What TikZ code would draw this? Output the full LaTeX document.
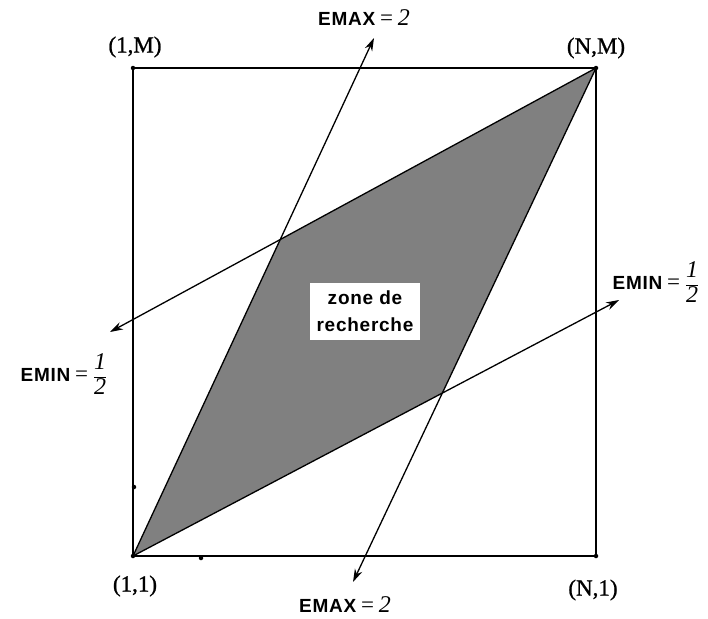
\documentclass[tikz,border=0pt]{standalone}
\usepackage{fontspec}
\setmainfont{Liberation Serif}
\setsansfont{Liberation Sans}
\newfontfamily\lblsans[LetterSpace=4]{Liberation Sans}
\newfontfamily\cornerfont[FakeBold=1]{Liberation Serif}
\usetikzlibrary{arrows.meta,calc}
\definecolor{zonegray}{RGB}{128,128,128}
\newcommand\fdig[1]{\textit{\fontsize{24}{26}\selectfont #1}}
\newcommand\eqsign{{\fontsize{23}{24}\selectfont =}}
\newcommand\twolbl{\textit{\fontsize{24}{26}\selectfont 2}}
\begin{document}
\begin{tikzpicture}[x=1pt,y=-1pt,
  edge/.style={line width=1.3pt},
  arr/.style={line width=1.3pt,-{Stealth[length=13pt,width=8pt]}},
  corner/.style={font=\cornerfont\fontsize{23}{26}\selectfont, inner sep=0pt},
  lbl/.style={font=\fontsize{19}{22}\selectfont, inner sep=0pt},
  dot/.style={circle,fill=black,inner sep=0pt,minimum size=4.5pt},
  zonebox/.style={fill=white, minimum width=110pt, minimum height=57pt, inner sep=0pt,
    align=center, font=\lblsans\bfseries\fontsize{19}{27}\selectfont}]
\useasboundingbox (0,0) rectangle (708,618);
\coordinate (A11) at (133,556);
\coordinate (A1M) at (133,68);
\coordinate (ANM) at (596,68);
\coordinate (AN1) at (596,556);
\coordinate (tTop) at (374,38);
\coordinate (tLeft) at (110,332);
\coordinate (tBot) at (353,582);
\coordinate (tRight) at (619,300);
\coordinate (P) at (intersection of A11--tTop and ANM--tLeft);
\coordinate (Q) at (intersection of A11--tRight and ANM--tBot);
\fill[zonegray] (A11) -- (P) -- (ANM) -- (Q) -- cycle;
\draw[edge] (A11) -- (A1M) -- (ANM) -- (AN1) -- cycle;
\draw[arr] (A11) -- (tTop);
\draw[arr] (ANM) -- (tLeft);
\draw[arr] (ANM) -- (tBot);
\draw[arr] (A11) -- (tRight);
\node[zonebox] (zone) at (365,311.5) {zone de\\recherche};
\node[dot] (d11) at (A11) {};
\node[dot] (d1M) at (A1M) {};
\node[dot] (dNM) at (ANM) {};
\node[dot] (dN1) at (AN1) {};
\node[dot] (dx1) at (134,487) {};
\node[dot] (dx2) at (201,558) {};
\node[corner] (l1M) at (135,47) {(1,M)};
\node[corner] (lNM) at (596,48) {(N,M)};
\node[corner] (l11) at (135,586) {(1,1)};
\node[corner] (lN1) at (593,590) {(N,1)};
\node[lbl] (emaxT) at (364,18) {{\lblsans\bfseries EMAX} \eqsign{} \twolbl};
\node[lbl] (emaxB) at (345,605) {{\lblsans\bfseries EMAX} \eqsign{} \twolbl};
\node[lbl] (eminL) at (64,374) {{\lblsans\bfseries EMIN} \eqsign{} $\displaystyle\frac{\fdig{1}}{\fdig{2}}$};
\node[lbl] (eminR) at (656,282) {{\lblsans\bfseries EMIN} \eqsign{} $\displaystyle\frac{\fdig{1}}{\fdig{2}}$};
\end{tikzpicture}
\end{document}
